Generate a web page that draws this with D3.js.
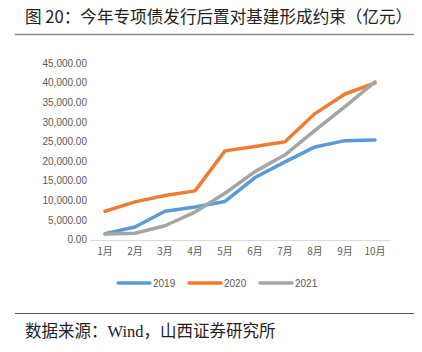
<!DOCTYPE html>
<html>
<head>
<meta charset="utf-8">
<script src="https://cdn.jsdelivr.net/npm/d3@7"></script>
<style>
  body { margin: 0; background: #fff; }
  svg { display: block; }
</style>
</head>
<body>
<svg id="chart" width="422" height="352"></svg>
<script>
var months = ["1月", "2月", "3月", "4月", "5月", "6月", "7月", "8月", "9月", "10月"];
var series2019 = [1500, 3200, 7200, 8300, 9700, 15800, 19800, 23600, 25200, 25400];
var series2020 = [7200, 9600, 11200, 12400, 22600, 23700, 24900, 32100, 37100, 39900];
var series2021 = [1400, 1600, 3500, 7000, 11800, 17300, 21600, 27800, 33900, 40200];
var yTicks = [0, 5000, 10000, 15000, 20000, 25000, 30000, 35000, 40000, 45000];
var seriesNames = ["2019", "2020", "2021"];

function drawChart() {
  var svg = d3.select("#chart");
  var colors = ["#5b9bd5", "#ed7d31", "#a5a5a5"];
  var allSeries = [series2019, series2020, series2021];

  // title
  svg.append("text")
    .attr("x", 25)
    .attr("y", 23)
    .attr("font-family", "Noto Sans CJK SC")
    .attr("font-size", 16.6)
    .attr("fill", "#222")
    .text("图 20：今年专项债发行后置对基建形成约束（亿元）");

  svg.append("line")
    .attr("x1", 15).attr("x2", 414)
    .attr("y1", 34.5).attr("y2", 34.5)
    .attr("stroke", "#8c8c8c")
    .attr("stroke-width", 1.5);

  var x = d3.scaleBand().domain(months).range([90, 390]);
  var y = d3.scaleLinear().domain([0, 45000]).range([239.5, 63]);

  // y axis labels
  var yAxis = svg.append("g")
    .attr("transform", "translate(90,0)")
    .call(d3.axisLeft(y).tickValues(yTicks).tickSize(0).tickPadding(3)
      .tickFormat(d3.format(",.2f")));
  yAxis.select(".domain").remove();
  yAxis.selectAll("text")
    .attr("font-family", "Liberation Sans, Arial, sans-serif")
    .attr("font-size", 10)
    .attr("fill", "#595959");

  // x axis
  var xAxis = svg.append("g")
    .attr("transform", "translate(0,240)")
    .call(d3.axisBottom(x).tickSize(0).tickPadding(8));
  xAxis.select(".domain")
    .attr("stroke", "#d9d9d9");
  xAxis.selectAll("text")
    .attr("font-family", "Noto Sans CJK SC")
    .attr("font-size", 10)
    .attr("fill", "#595959");

  var line = d3.line()
    .x(function (d, i) { return x(months[i]) + x.bandwidth() / 2; })
    .y(function (d) { return y(d); });

  svg.append("g")
    .selectAll("path")
    .data(allSeries)
    .enter()
    .append("path")
    .attr("d", line)
    .attr("fill", "none")
    .attr("stroke", function (d, i) { return colors[i]; })
    .attr("stroke-width", 3.5)
    .attr("stroke-linejoin", "round")
    .attr("stroke-linecap", "round");

  // legend
  var legend = svg.append("g")
    .selectAll("g")
    .data(seriesNames)
    .enter()
    .append("g")
    .attr("transform", function (d, i) {
      return "translate(" + (118 + i * 71) + ",283)";
    });

  legend.append("line")
    .attr("x1", 0).attr("x2", 32)
    .attr("y1", 0).attr("y2", 0)
    .attr("stroke", function (d, i) { return colors[i]; })
    .attr("stroke-width", 3.5)
    .attr("stroke-linecap", "round");

  legend.append("text")
    .attr("x", 35)
    .attr("y", 0)
    .attr("dy", "0.35em")
    .attr("font-family", "Liberation Sans, Arial, sans-serif")
    .attr("font-size", 10)
    .attr("fill", "#595959")
    .text(function (d) { return d; });

  // footer
  svg.append("line")
    .attr("x1", 15).attr("x2", 414)
    .attr("y1", 313.5).attr("y2", 313.5)
    .attr("stroke", "#555")
    .attr("stroke-width", 1);

  svg.append("text")
    .attr("x", 25)
    .attr("y", 337)
    .attr("font-family", "Liberation Serif, Noto Sans CJK SC")
    .attr("font-size", 16.5)
    .attr("fill", "#222")
    .text("数据来源：Wind，山西证券研究所");
}

drawChart();
</script>
</body>
</html>
